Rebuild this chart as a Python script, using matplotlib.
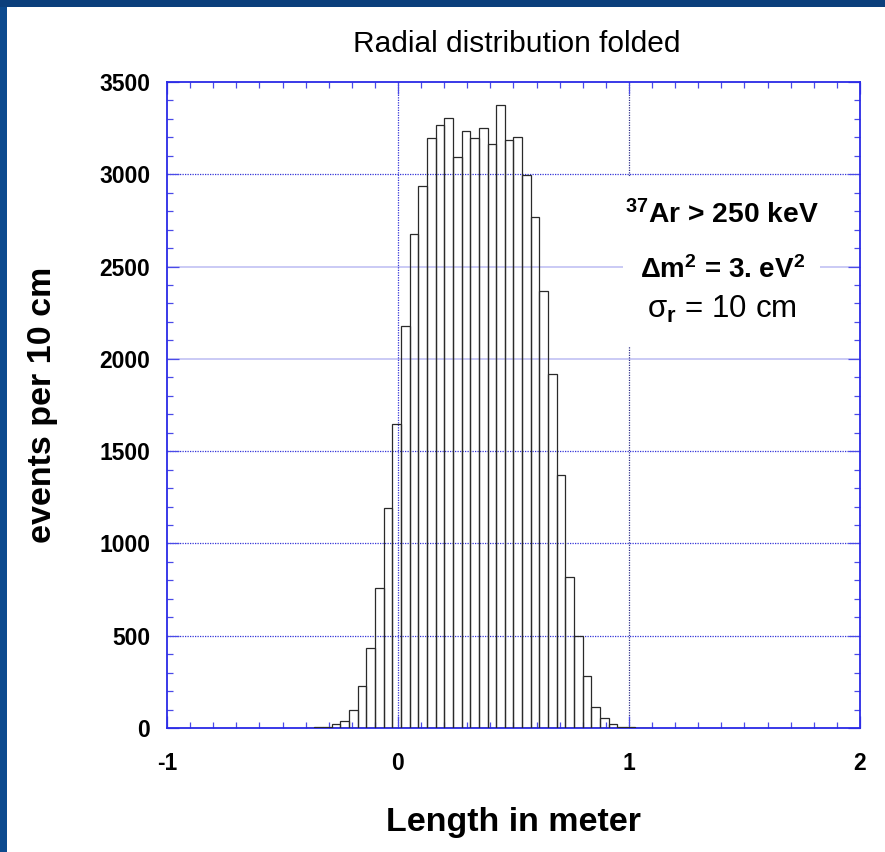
import numpy as np
import matplotlib
matplotlib.use("Agg")
import matplotlib.pyplot as plt
from matplotlib.patches import Rectangle
from matplotlib.ticker import MultipleLocator, FixedLocator

plt.rcParams['font.family'] = ['Liberation Sans', 'DejaVu Sans']
plt.rcParams['axes.unicode_minus'] = False
plt.rcParams['mathtext.fontset'] = 'custom'
plt.rcParams['mathtext.rm'] = 'Liberation Sans:bold'
plt.rcParams['mathtext.it'] = 'Liberation Sans:bold'
plt.rcParams['mathtext.bf'] = 'Liberation Sans:bold'

# ---- data ----
x_min, x_max, n_bins = -1.0, 2.0, 80
counts = [
    0, 0, 0, 0, 0, 0, 0, 0, 0, 0,
    0, 0, 0, 0, 0, 0, 1, 3, 7, 22,
    40, 98, 226, 435, 760, 1193, 1649, 2178, 2674, 2934,
    3194, 3265, 3303, 3093, 3236, 3198, 3249, 3162, 3375, 3184,
    3204, 2996, 2766, 2366, 1916, 1369, 816, 500, 282, 115,
    54, 22, 7, 7, 1, 1, 0, 0, 0, 0,
    0, 0, 0, 0, 0, 0, 0, 0, 0, 0,
    0, 0, 0, 0, 0, 0, 0, 0, 0, 0,
]
x_ticks = [-1, 0, 1, 2]
x_tick_labels = ['-1', '0', '1', '2']
y_ticks = [0, 500, 1000, 1500, 2000, 2500, 3000, 3500]
title = 'Radial distribution folded'
xlabel = 'Length in meter'
ylabel = 'events per 10 cm'
info_lines = [r'$^{37}$Ar > 250 keV', r'Δm$^{2}$ = 3. eV$^{2}$', r'σ$_{r}$ = 10 cm']

# ---- figure ----
W, H = 885, 852
fig = plt.figure(figsize=(W / 100, H / 100), dpi=100)
fig.patch.set_facecolor('white')
# slide background strips
fig.patches.append(Rectangle((0, 0), 7 / W, 1, transform=fig.transFigure,
                             facecolor='#0c4a8e', edgecolor='none', zorder=0))
fig.patches.append(Rectangle((0, 1 - 7 / H), 1, 7 / H, transform=fig.transFigure,
                             facecolor='#0b3f7c', edgecolor='none', zorder=0))

ax = fig.add_axes([167 / W, 1 - 728 / H, (860 - 167) / W, (728 - 82) / H])
ax.set_facecolor('white')

edges = np.linspace(x_min, x_max, n_bins + 1)
cnt = np.array(counts, dtype=float)
mask = cnt > 0
ax.bar(edges[:-1][mask], cnt[mask], width=(x_max - x_min) / n_bins, align='edge',
       facecolor='none', edgecolor='#2a2a2a', linewidth=0.9, zorder=3)

ax.set_xlim(x_min, x_max)
ax.set_ylim(0, 3500)

# grid lines
blue = '#3434d8'
for yv in [500, 1000, 1500, 3000]:
    ax.axhline(yv, color=blue, lw=0.9, ls=(0, (1, 1)), zorder=1)
for yv in [2000, 2500]:
    ax.axhline(yv, color='#c6c6f4', lw=1.3, zorder=1)
ax.axvline(0, color=blue, lw=0.9, ls=(0, (1, 1)), zorder=1)
ax.axvline(1, color='#303088', lw=0.9, ls=(0, (1, 1)), zorder=1)

# ticks
ax.xaxis.set_major_locator(FixedLocator(x_ticks))
ax.set_xticklabels(x_tick_labels)
ax.xaxis.set_minor_locator(MultipleLocator(0.1))
ax.yaxis.set_major_locator(FixedLocator(y_ticks))
ax.yaxis.set_minor_locator(MultipleLocator(100))
tick_col = '#4a4ae8'
ax.tick_params(which='both', direction='in', top=True, right=True, color=tick_col)
ax.tick_params(which='major', length=8.6, width=0.9, labelsize=16.5)
ax.tick_params(which='minor', length=4.3, width=0.9)
ax.tick_params(axis='x', which='major', pad=17)
ax.tick_params(axis='y', which='major', pad=12)
for lab in ax.get_xticklabels() + ax.get_yticklabels():
    lab.set_fontweight('bold')

for sp in ax.spines.values():
    sp.set_color('#2a2ae6')
    sp.set_linewidth(1.3)

# labels
ax.set_xlabel(xlabel, fontsize=24.5, fontweight='bold')
ax.xaxis.label.set_va('baseline')
ax.xaxis.set_label_coords(0.5, -(831 - 728) / (728 - 82))
ax.set_ylabel(ylabel, fontsize=24.5, fontweight='bold')
ax.yaxis.label.set_va('baseline')
ax.yaxis.set_label_coords(-(167 - 51) / (860 - 167), 0.5)

fig.text(517 / W, 1 - 52 / H, title, ha='center', va='baseline', fontsize=21.5)

# info box (white background hiding grid)
ax.add_patch(Rectangle((0.658, 0.591), 0.284, 0.262, transform=ax.transAxes,
                       facecolor='white', edgecolor='none', zorder=4))
ax.text(0.801, 0.782, info_lines[0], transform=ax.transAxes, ha='center',
        va='baseline', fontsize=20.3, fontweight='bold', zorder=5)
ax.text(0.801, 0.697, info_lines[1], transform=ax.transAxes, ha='center',
        va='baseline', fontsize=20, fontweight='bold', zorder=5)
ax.text(0.801, 0.635, info_lines[2], transform=ax.transAxes, ha='center',
        va='baseline', fontsize=22.5, fontweight='normal', zorder=5)

fig.savefig('out.png', dpi=100, facecolor=fig.get_facecolor())
